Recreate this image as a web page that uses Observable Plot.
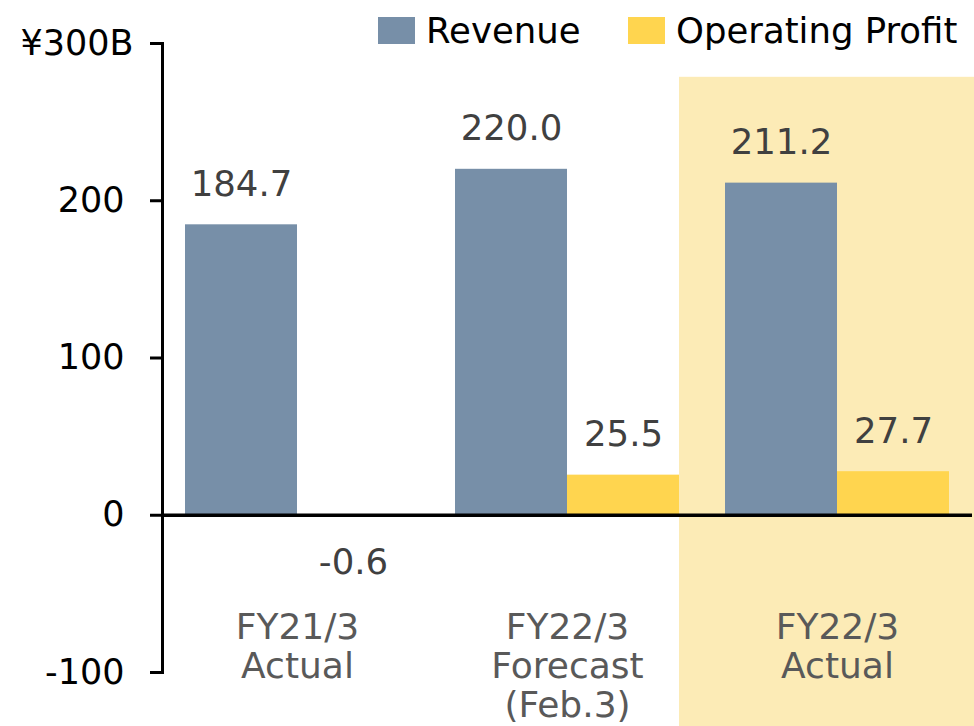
<!DOCTYPE html>
<html><head><meta charset="utf-8">
<script src="https://cdn.jsdelivr.net/npm/d3@7"></script>
<script src="https://cdn.jsdelivr.net/npm/@observablehq/plot@0.6"></script>
<style>
html,body{margin:0;padding:0;background:#fff;}
#wrap{position:relative;width:974px;height:726px;overflow:hidden;font-family:"DejaVu Sans",sans-serif;}
#legend{position:absolute;left:0;top:0;width:974px;height:50px;z-index:2;}
.item{position:absolute;top:2px;display:flex;align-items:center;font-size:35.5px;color:#000;line-height:58px;white-space:nowrap;}
.sw{display:inline-block;width:37px;height:27px;margin-right:11px;position:relative;top:-1px;}
#chart{position:absolute;left:0;top:0;}
</style></head><body>
<div id="wrap"><div id="chart"></div><div id="legend"></div></div>
<script>
// ---- data ----
const categories = ["FY21/3\nActual", "FY22/3\nForecast\n(Feb.3)", "FY22/3\nActual"];
const series = ["Revenue", "Operating Profit"];
const revenue = [184.7, 220.0, 211.2];
const operatingProfit = [-0.6, 25.5, 27.7];
const seriesColors = ["#778fa8", "#ffd54f"];
const yTicks = [-100, 0, 100, 200];
const yTopTick = [300];
const yTopLabel = "¥300B";
const highlighted = ["FY22/3\nActual"];

// ---- tables ----
const revRows = categories.map((c, i) => ({category: c, series: series[0], value: revenue[i], label: revenue[i].toFixed(1)}));
const opRows = categories.map((c, i) => ({category: c, series: series[1], value: operatingProfit[i], label: operatingProfit[i].toFixed(1)}));
const catRows = categories.map(c => ({category: c}));
const highlightRows = highlighted.map(c => ({category: c, top: 278.5, bottom: -140}));

const half = 112; // half of the category band: one bar per series
const valueLabel = (data, dxv) => [
  Plot.text(data.filter(d => d.value >= 0), {x: "category", y: "value", text: "label", dx: dxv, lineAnchor: "bottom", dy: -29, fill: "#404040", fontSize: 35.5}),
  Plot.text(data.filter(d => d.value < 0), {x: "category", y: "value", text: "label", dx: dxv, lineAnchor: "top", dy: 33, fill: "#404040", fontSize: 35.5})
];

let errMsg = "";
try {
  const chart = Plot.plot({
    width: 974, height: 726,
    marginLeft: 162, marginRight: 2, marginTop: 43, marginBottom: 54,
    style: {fontFamily: "DejaVu Sans", fontSize: "35px", background: "transparent", overflow: "hidden"},
    x: {domain: categories, paddingInner: 0.17, paddingOuter: 0.085, axis: null},
    y: {domain: [-100, 300], axis: null},
    color: {domain: series, range: seriesColors},
    marks: [
      Plot.barY(highlightRows, {x: "category", y1: "top", y2: "bottom", fill: "#fcebb6", insetLeft: -46, insetRight: -25}),
      Plot.barY(revRows, {x: "category", y: "value", fill: "series", insetRight: half}),
      Plot.barY(opRows, {x: "category", y: "value", fill: "series", insetLeft: half}),
      ...valueLabel(revRows, -half / 2),
      ...valueLabel(opRows, half / 2),
      Plot.text(catRows, {x: "category", text: "category", frameAnchor: "bottom", lineAnchor: "top", dy: -61, lineHeight: 1.08, fill: "#595959", fontSize: 36}),
      Plot.ruleY([0], {stroke: "#000", strokeWidth: 3.5}),
      Plot.frame({anchor: "left", stroke: "#000", strokeWidth: 3}),
      Plot.axisY(yTicks, {anchor: "left", tickSize: 12, tickPadding: 26, strokeWidth: 3, stroke: "#000", fill: "#000", fontSize: 35, tickFormat: d => String(d), label: null}),
      Plot.axisY(yTopTick, {anchor: "left", tickSize: 12, tickPadding: 17, strokeWidth: 3, stroke: "#000", fill: "#000", fontSize: 35, tickFormat: () => yTopLabel, label: null})
    ]
  });
  document.getElementById("chart").appendChild(chart);
} catch (e) { errMsg = String(e); }

// legend
const legend = document.getElementById("legend");
const legendX = [378, 628];
series.forEach((s, i) => {
  const it = document.createElement("div");
  it.className = "item";
  it.style.left = legendX[i] + "px";
  it.innerHTML = `<span class="sw" style="background:${seriesColors[i]}"></span><span>${s}</span>`;
  legend.appendChild(it);
});
if (errMsg) { const p = document.createElement("pre"); p.textContent = errMsg; p.style.cssText="position:absolute;top:300px;left:200px;font-size:14px;z-index:5"; document.getElementById("wrap").appendChild(p); }
</script>
</body></html>
